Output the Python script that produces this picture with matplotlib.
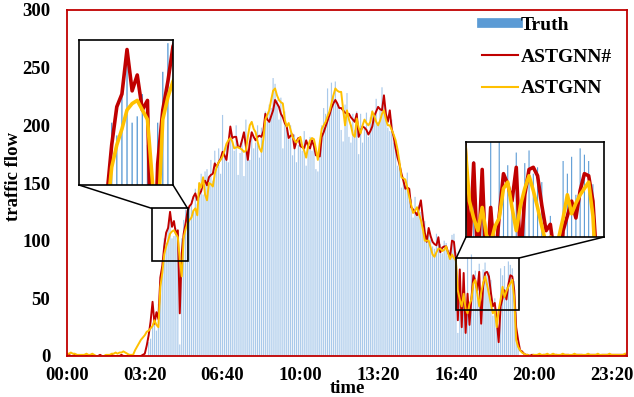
import matplotlib.pyplot as plt
from matplotlib.patches import Rectangle, ConnectionPatch
from matplotlib.lines import Line2D

plt.rcParams['font.family'] = ['Liberation Serif', 'DejaVu Serif']
plt.rcParams['font.weight'] = 'bold'

# 5-minute samples over one day
step_min = 5

truth = [
    0, 0, 0, 0, 0, 0, 0, 0, 0, 0, 0, 0, 0, 0, 0, 0, 0, 0, 0, 0, 0,
    0, 0, 0, 0, 0, 0, 0, 0, 0, 0, 0, 0, 0, 0, 0, 0, 0, 0, 0, 0, 0,
    12, 15, 28, 32, 22, 45, 58, 75,
    102, 98, 112, 122, 102, 104, 111, 95, 10, 102,
    118, 127, 115, 130, 135, 126, 145, 132, 150, 158,
    140, 160, 162, 155, 170, 152, 178, 165, 180, 158,
    209, 176, 183, 168, 195, 190, 178, 200, 157, 176,
    188, 156, 205, 175, 170, 193, 180, 185, 200, 172,
    198, 188, 212, 203, 218, 215, 241, 236, 222, 205,
    224, 180, 212, 196, 188, 200, 174, 192, 168, 183,
    190, 178, 195, 165, 182, 190, 178, 185, 162, 160,
    187, 200, 215, 210, 232, 206, 237, 226, 238, 219,
    214, 196, 186, 218, 228, 190, 185, 210, 196, 212,
    175, 210, 185, 198, 211, 190, 207, 213, 205, 223,
    203, 214, 233, 221, 206, 198, 195, 205, 185, 186,
    165, 170, 146, 155, 148, 159, 138, 136, 120, 138,
    121, 131, 125, 108, 117, 102, 107, 101, 95, 93,
    106, 100, 97, 89, 100, 98, 87, 92, 105, 106,
    90, 20, 76, 30, 62, 38, 85, 35, 88, 60,
    74, 53, 80, 32, 75, 81, 70, 73, 66, 35,
    50, 28, 14, 76, 70, 78, 60, 82, 79, 76,
    65, 38, 12,
    0, 0, 0, 0, 0, 0, 0, 0, 0, 0, 0, 0, 0, 0, 0, 0, 0, 0, 0, 0,
    0, 0, 0, 0, 0, 0, 0, 0, 0, 0, 0, 0, 0, 0, 0, 0, 0, 0, 0, 0,
    0, 0, 0, 0, 0, 0, 0, 0, 0, 0, 0, 0, 0, 0, 0,
]

astgnn_sharp = [
    0, 1, 0, 0, 1, 1, 0, 0, 0, 1, 0, 0, 1, 0, 0, 0, 0, 1, 0, 0,
    0, 0, 0, 1, 0, 0, 0, 0, 1, 0, 0, 0, 1, 0, 0, 0, 0, 0, 0, 1,
    2, 9, 18, 30, 47, 28, 38, 32, 68, 78,
    95, 107, 111, 125, 112, 117, 106, 109, 37, 89,
    106, 115, 126, 130, 132, 138, 141, 135, 140, 143,
    150, 152, 148, 155, 157, 158, 167, 164, 168, 171,
    177, 174, 170, 184, 199, 189, 190, 190, 181, 181,
    187, 194, 182, 170, 185, 194, 190, 187, 190, 191,
    190, 195, 210, 205, 203, 208, 213, 222, 219, 216,
    210, 207, 202, 199, 189, 191, 192, 180, 186, 189,
    182, 181, 180, 187, 182, 180, 187, 182, 174, 174,
    173, 190, 194, 199, 204, 209, 215, 219, 222, 219,
    215, 215, 213, 211, 210, 210, 207, 205, 203, 210,
    190, 195, 199, 198, 196, 192, 195, 199, 208, 212,
    216, 214, 213, 226, 210, 203, 213, 197, 190, 180,
    172, 166, 158, 152, 145, 146, 145, 129, 127, 125,
    122, 128, 135, 120, 107, 99, 111, 104, 99, 97,
    96, 103, 90, 94, 95, 95, 90, 86, 100, 99,
    83, 31, 75, 25, 72, 20, 54, 27, 50, 70,
    65, 57, 73, 28, 60, 72, 73, 69, 55, 43,
    46, 31, 12, 43, 50, 57, 49, 62, 70, 69,
    57, 25, 14, 5, 4, 2, 1, 1, 0, 1,
    1, 0, 1, 1, 0, 1, 1, 1, 0, 1, 1, 1, 1, 0, 1, 1, 1, 1, 1, 0,
    1, 1, 1, 1, 1, 1, 0, 1, 1, 1, 1, 1, 1, 1, 0, 1, 1, 1, 1, 1,
    1, 1, 1, 1, 1, 1, 1, 1,
]

astgnn = [
    2, 2, 3, 2, 2, 1, 1, 1, 1, 1, 2, 1, 1, 2, 1, 0, 0, 0, 0, 0,
    1, 1, 1, 2, 2, 3, 2, 3, 3, 4, 3, 2, 1, 1,
    1, 5, 8, 11, 14, 16,
    18, 21, 22, 24, 26, 31, 27, 25, 60, 72,
    88, 95, 100, 106, 108, 109, 106, 103, 83, 69,
    103, 110, 115, 118, 120, 126, 128, 122, 150, 146,
    155, 140, 135, 150, 149, 147, 158, 164, 168, 170,
    173, 178, 184, 187, 189, 186, 180, 181, 181, 180,
    179, 177, 178, 190, 200, 203, 197, 194, 186, 180,
    177, 188, 205, 209, 213, 222, 230, 232, 226, 222,
    220, 219, 205, 199, 202, 196, 190, 187, 185, 188,
    190, 182, 178, 172, 182, 187, 189, 188, 180, 170,
    185, 197, 200, 203, 208, 212, 219, 226, 232, 230,
    229, 229, 214, 200, 213, 205, 200, 192, 190, 206,
    198, 193, 200, 205, 202, 200, 203, 212, 208, 203,
    200, 204, 210, 213, 205, 200, 200, 196, 192, 187,
    179, 168, 155, 154, 153, 146, 138, 131, 124, 126,
    129, 123, 118, 110, 100, 100, 100, 94, 88, 86,
    90, 93, 93, 91, 92, 95, 89, 84, 88, 85,
    83, 57, 49, 43, 54, 41, 37, 45, 49, 63,
    66, 54, 43, 55, 63, 69, 62, 54, 45, 37,
    40, 25, 40, 49, 60, 51, 56, 60, 63, 66,
    50, 14, 8, 5, 3, 2, 1, 1, 0, 0,
    1, 1, 1, 2, 1, 1, 1, 2, 1, 1, 2, 1, 1, 1, 1, 2, 1, 1, 1, 1,
    1, 2, 1, 1, 1, 1, 1, 1, 2, 1, 1, 1, 1, 2, 1, 1, 1, 1, 1, 2,
    1, 1, 1, 1, 1, 1, 1, 2,
]

x_ticks = [0, 200, 400, 600, 800, 1000, 1200, 1400]
x_labels = ['00:00', '03:20', '06:40', '10:00', '13:20', '16:40', '20:00', '23:20']
y_ticks = [0, 50, 100, 150, 200, 250, 300]

# zoomed windows (minutes, flow)
zoom1 = (218, 310, 82.4, 128)
zoom2 = (1001, 1163, 40, 85)

BLUE = '#5B9BD5'
PALE_BLUE = '#A9C9EA'
RED = '#C00000'
YELLOW = '#FFC000'

minutes = [i * step_min for i in range(len(truth))]


def draw_series(ax, lw, bar_w, bar_color):
    ax.bar(minutes, truth, width=bar_w, color=bar_color, linewidth=0, snap=False)
    ax.plot(minutes, astgnn_sharp, color=RED, lw=lw)
    ax.plot(minutes, astgnn, color=YELLOW, lw=lw)


fig = plt.figure(figsize=(6.34, 3.97), dpi=100)
ax = fig.add_axes([67 / 634, 1 - 356 / 397, 560 / 634, 346 / 397])
draw_series(ax, 1.4, 3.0, PALE_BLUE)
ax.set_xlim(0, 1440)
ax.set_ylim(0, 300)
ax.set_xticks(x_ticks)
ax.set_xticklabels(x_labels)
ax.set_yticks(y_ticks)
ax.tick_params(length=0, labelsize=13.5)
ax.tick_params(axis='y', pad=12)
ax.tick_params(axis='x', pad=8)
for s in ax.spines.values():
    s.set_color(RED)
    s.set_linewidth(1.3)
ax.set_xlabel('time', fontsize=13.5, fontweight='bold')
ax.xaxis.set_label_coords(0.5, -0.07)
ax.set_ylabel('traffic flow', fontsize=13.5, fontweight='bold')
ax.yaxis.set_label_coords(-0.081, 0.52)

handles = [Line2D([], [], color=BLUE, lw=7),
           Line2D([], [], color=RED, lw=1.5),
           Line2D([], [], color=YELLOW, lw=1.5)]
ax.legend(handles, ['Truth', 'ASTGNN#', 'ASTGNN'], loc='upper left',
          bbox_to_anchor=(468 / 634, 1 - 3 / 397), bbox_transform=fig.transFigure,
          frameon=False, fontsize=14, handlelength=1.85, handletextpad=0.15,
          labelspacing=0.72, borderpad=0.2)

# inset views
for (x0, x1, y0, y1), rect in [(zoom1, [79 / 634, 1 - 185 / 397, 94 / 634, 145 / 397]),
                               (zoom2, [466 / 634, 1 - 237 / 397, 138 / 634, 95 / 397])]:
    ax.add_patch(Rectangle((x0, y0), x1 - x0, y1 - y0, fill=False,
                           ec='black', lw=1.2, zorder=5))
    ins = fig.add_axes(rect)
    draw_series(ins, 2.6, 1.3, BLUE)
    ins.set_xlim(x0, x1)
    ins.set_ylim(y0, y1)
    ins.set_xticks([])
    ins.set_yticks([])
    for s in ins.spines.values():
        s.set_linewidth(1.2)
    for xa, xb in [(0, x0), (1, x1)]:
        con = ConnectionPatch(xyA=(xa, 0), coordsA=ins.transAxes,
                              xyB=(xb, y1), coordsB=ax.transData,
                              color='black', lw=1.1)
        fig.add_artist(con)

fig.savefig('out.png', dpi=100)
